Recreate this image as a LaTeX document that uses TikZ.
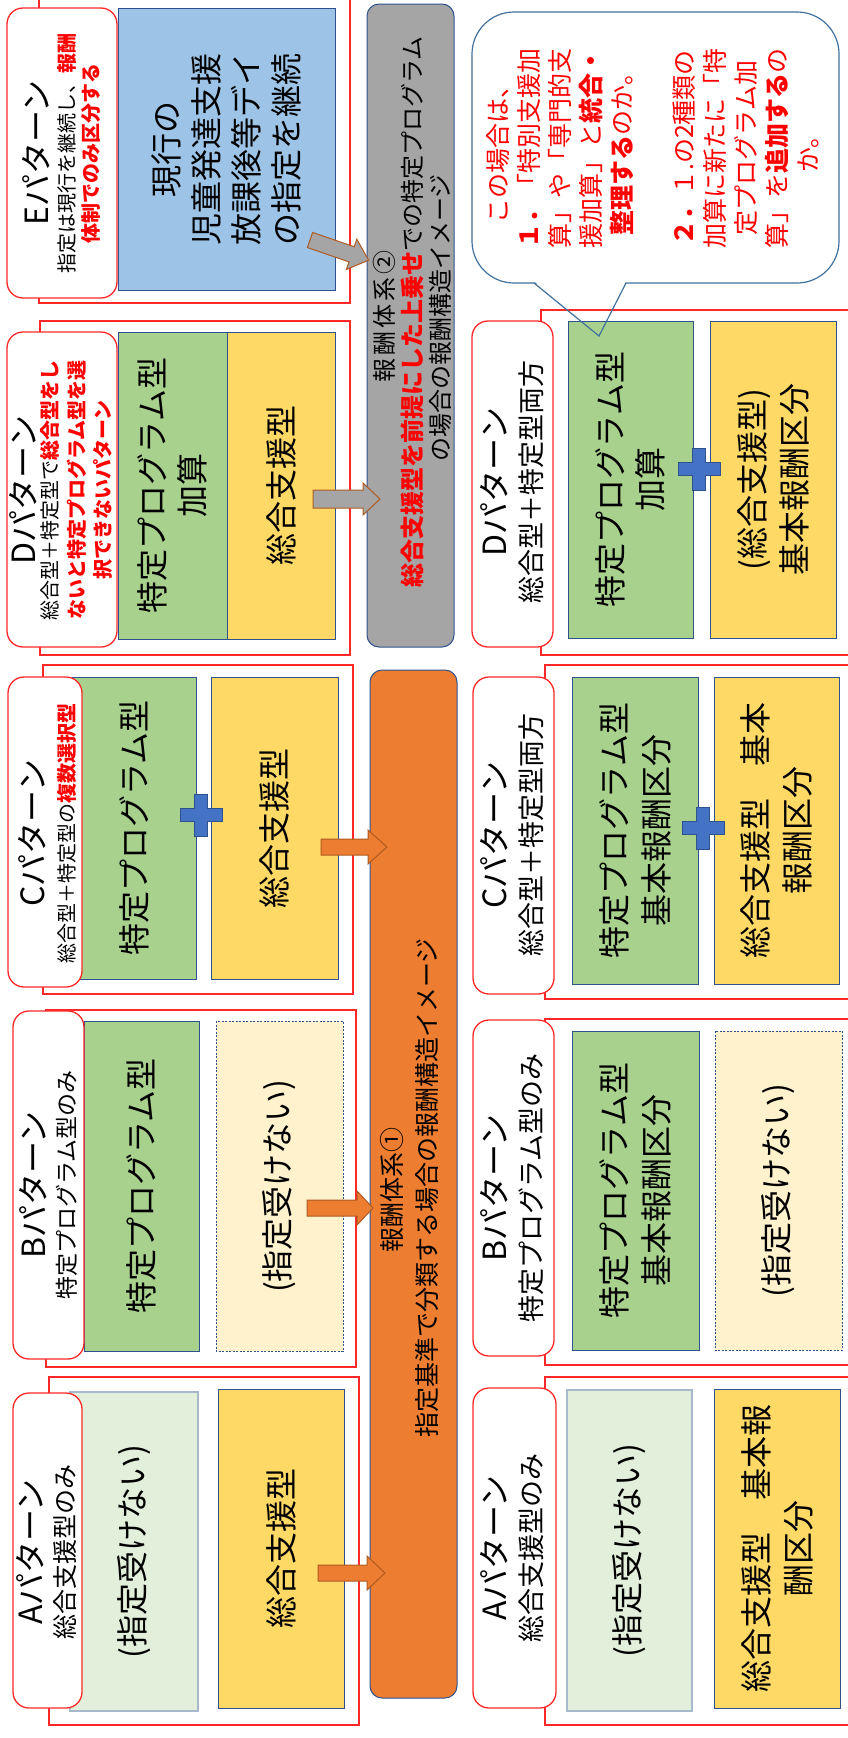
\documentclass[tikz,border=0pt]{standalone}
\usepackage{fontspec}
\setmainfont{Noto Sans CJK JP}
\definecolor{redline}{RGB}{255,40,40}
\definecolor{boxline}{RGB}{47,82,143}
\definecolor{greenbox}{HTML}{A9D18E}
\definecolor{yellowbox}{HTML}{FFD966}
\definecolor{lgreenbox}{HTML}{E2EFDA}
\definecolor{lgreenline}{HTML}{A9B9CC}
\definecolor{lyellowbox}{HTML}{FFF2CC}
\definecolor{bluebox}{HTML}{9DC3E6}
\definecolor{orangebar}{HTML}{ED7D31}
\definecolor{orangeedge}{HTML}{AE5A21}
\definecolor{graybar}{HTML}{A5A5A5}
\definecolor{plusblue}{HTML}{4472C4}
\definecolor{calloutline}{HTML}{41719C}
\definecolor{redtext}{RGB}{255,0,0}
\newcommand\myfs[2]{\fontsize{#1pt}{#2pt}\selectfont}
\newcommand\rb[1]{\textcolor{redtext}{\bfseries #1}}
\newcommand\plusat[2]{\draw[plussign, shift={(#1,#2)}] (-21,-6.5) -- (-6.5,-6.5) -- (-6.5,-21) -- (6.5,-21) -- (6.5,-6.5) -- (21,-6.5) -- (21,6.5) -- (6.5,6.5) -- (6.5,21) -- (-6.5,21) -- (-6.5,6.5) -- (-21,6.5) -- cycle;}
\begin{document}
\begin{tikzpicture}[x=1pt,y=-1pt,
  outer/.style={draw=redline, line width=1.3pt},
  hdr/.style={draw=redline, fill=white, line width=1.3pt, rounded corners=16pt, rotate=90, inner sep=0pt},
  box/.style={draw=boxline, line width=1pt, rotate=90, inner sep=0pt, align=center, font=\myfs{32}{41}},
  greenb/.style={box, fill=greenbox},
  yellowb/.style={box, fill=yellowbox},
  lgreenb/.style={box, fill=lgreenbox, draw=lgreenline, line width=1.5pt},
  dashb/.style={box, fill=lyellowbox, line width=0.8pt, dash pattern=on 2pt off 1.5pt},
  lbl/.style={rotate=90, inner sep=0pt, align=center},
  big/.style={lbl, font=\myfs{32}{32}},
  bar/.style={draw=boxline, line width=1pt, rounded corners=12pt, rotate=90, inner sep=0pt},
  arrowO/.style={fill=orangebar, draw=orangeedge, line width=1pt},
  arrowG/.style={fill=graybar, draw=orangeedge, line width=1pt},
  plussign/.style={fill=plusblue, draw=boxline, line width=0.8pt}]
\path[use as bounding box] (0,0) rectangle (848,1738);
\clip (0,0) rectangle (848,1738);
\fill[white] (0,0) rectangle (848,1738);

% callout body (under the boxes)
\draw[draw=calloutline, fill=white, line width=1.2pt, rounded corners=42pt] (472,12) rectangle (839,283);
\fill[white] (534,281) -- (599,336) -- (626,281) -- cycle;

% ---------- outer red group frames ----------
\draw[outer] (39,-20) rectangle (350,303);
\draw[outer] (40,321) rectangle (350,655);
\draw[outer] (43,665) rectangle (353,994);
\draw[outer] (46,1010) rectangle (356,1367);
\draw[outer] (49,1377) rectangle (359,1725);
\draw[outer] (541,310) rectangle (870,655);
\draw[outer] (545,665) rectangle (870,999);
\draw[outer] (545,1019) rectangle (870,1365);
\draw[outer] (545,1377) rectangle (870,1725);

% ---------- left column ----------
% E
\node[box, fill=bluebox, minimum width=282pt, minimum height=217pt, font=\myfs{32}{40}] (eBox) at (226.5,149) {現行の\\児童発達支援\\放課後等デイ\\の指定を継続};
% D
\node[greenb, minimum width=307pt, minimum height=109pt, font=\myfs{32}{40}] (dG) at (172.5,485.5) {特定プログラム型\\加算};
\node[yellowb, minimum width=307pt, minimum height=108pt] (dY) at (281,485.5) {総合支援型};
% C
\node[greenb, minimum width=302pt, minimum height=124pt] (cG) at (134,828) {特定プログラム型};
\node[yellowb, minimum width=302pt, minimum height=127pt] (cY) at (274.5,828) {総合支援型};
% B
\node[greenb, minimum width=330pt, minimum height=115pt] (bG) at (141.5,1186) {特定プログラム型};
\node[dashb, minimum width=330pt, minimum height=127pt] (bD) at (279.5,1186) {(指定受けない)};
% A
\node[lgreenb, minimum width=319pt, minimum height=128pt] (aL) at (134,1551.5) {(指定受けない)};
\node[yellowb, minimum width=319pt, minimum height=126pt] (aY) at (281,1548.5) {総合支援型};

% headers left
\node[hdr, minimum width=290pt, minimum height=110pt] (hE) at (62,153) {};
\node[big] (hEt) at (36,153) {Eパターン};
\node[lbl, font=\myfs{20}{20}] (hEs1) at (67,153) {指定は現行を継続し、\rb{報酬}};
\node[lbl, font=\myfs{20}{20}] (hEs2) at (91,153) {\rb{体制でのみ区分する}};

\node[hdr, minimum width=315pt, minimum height=110pt] (hD) at (62,489.5) {};
\node[big] (hDt) at (23,490) {Dパターン};
\node[lbl, font=\myfs{20}{20}] (hDs1) at (50,490) {総合型＋特定型で\rb{総合型をし}};
\node[lbl, font=\myfs{20}{20}] (hDs2) at (77,490) {\rb{ないと特定プログラム型を選}};
\node[lbl, font=\myfs{20}{20}] (hDs3) at (103,490) {\rb{択できないパターン}};

\node[hdr, minimum width=310pt, minimum height=74pt] (hC) at (45,832) {};
\node[big] (hCt) at (32,833) {Cパターン};
\node[lbl, font=\myfs{20}{20}] (hCs) at (67,833) {総合型＋特定型の\rb{複数選択型}};

\node[hdr, minimum width=348pt, minimum height=71pt] (hB) at (48.5,1185) {};
\node[big] (hBt) at (33,1185) {Bパターン};
\node[lbl, font=\myfs{23}{23}] (hBs) at (67,1185) {特定プログラム型のみ};

\node[hdr, minimum width=315pt, minimum height=69pt] (hA) at (47.5,1550.5) {};
\node[big] (hAt) at (30,1552) {Aパターン};
\node[lbl, font=\myfs{25}{25}] (hAs) at (65,1552) {総合支援型のみ};

% bars
\node[bar, fill=graybar, minimum width=643pt, minimum height=87pt] (sys2) at (410.5,325.5) {};
\node[lbl, font=\myfs{24}{24}] (g1) at (384,316) {報\kern3pt 酬\kern3pt 体\kern3pt 系\kern3pt ②};
\node[lbl, font=\myfs{24}{24}] (g2) at (412,312) {\rb{総合支援型を前提にした上乗せ}での特定プログラム};
\node[lbl, font=\myfs{24}{24}] (g3) at (440,318) {の場合の報酬構造イメージ};

\node[bar, fill=orangebar, minimum width=1028pt, minimum height=87pt] (sys1) at (413.5,1184) {};
\node[lbl, font=\myfs{25}{25}] (o1) at (392,1190) {報酬体系①};
\node[lbl, font=\myfs{25}{25}] (o2) at (427,1188) {指定基準で分類する場合の報酬構造イメージ};

% plus left C
\plusat{201}{815}

% arrows into bars
\draw[arrowG, shift={(310,240)}, rotate=-19] (0,-8) -- (44,-8) -- (44,-16) -- (62,0) -- (44,16) -- (44,8) -- (0,8) -- cycle;
\draw[arrowG] (313,490) -- (363,490) -- (363,483) -- (380,499) -- (363,515) -- (363,508) -- (313,508) -- cycle;
\draw[arrowO] (321,839) -- (368,839) -- (368,830) -- (387,847) -- (368,864) -- (368,855) -- (321,855) -- cycle;
\draw[arrowO] (307,1200) -- (357,1200) -- (357,1191) -- (373,1208) -- (357,1225) -- (357,1216) -- (307,1216) -- cycle;
\draw[arrowO] (318,1565) -- (367,1565) -- (367,1556) -- (385,1573) -- (367,1590) -- (367,1581) -- (318,1581) -- cycle;

% ---------- right column ----------
\node[greenb, minimum width=317pt, minimum height=125pt, font=\myfs{32}{40}] (dG2) at (630.5,479.5) {特定プログラム型\\加算};
\node[yellowb, minimum width=317pt, minimum height=126pt, font=\myfs{32}{42}] (dY2) at (773,479.5) {(総合支援型)\\基本報酬区分};
\node[greenb, minimum width=307pt, minimum height=126pt, font=\myfs{32}{42}] (cG2) at (635,830.5) {特定プログラム型\\基本報酬区分};
\node[yellowb, minimum width=307pt, minimum height=125pt, font=\myfs{32}{42}] (cY2) at (776.5,830.5) {総合支援型　基本\\報酬区分};
\node[greenb, minimum width=319pt, minimum height=127pt, font=\myfs{32}{42}] (bG2) at (635.5,1190.5) {特定プログラム型\\基本報酬区分};
\node[dashb, minimum width=319pt, minimum height=127pt] (bD2) at (778.5,1190.5) {(指定受けない)};
\node[lgreenb, minimum width=321pt, minimum height=125pt] (aL2) at (629.5,1550.5) {(指定受けない)};
\node[yellowb, minimum width=319pt, minimum height=126pt, font=\myfs{32}{42}] (aY2) at (777,1548.5) {総合支援型　基本報\\酬区分};

\plusat{699}{469}
\plusat{703}{828}

% headers right
\node[hdr, minimum width=326pt, minimum height=81pt] (hD2) at (512.5,484) {};
\node[big] (hD2t) at (494,482) {Dパターン};
\node[lbl, font=\myfs{27}{27}] (hD2s) at (531,482) {総合型＋特定型両方};
\node[hdr, minimum width=317pt, minimum height=81pt] (hC2) at (513.5,835.5) {};
\node[big] (hC2t) at (494,835) {Cパターン};
\node[lbl, font=\myfs{27}{27}] (hC2s) at (531,835) {総合型＋特定型両方};
\node[hdr, minimum width=336pt, minimum height=81pt] (hB2) at (513.5,1188) {};
\node[big] (hB2t) at (494,1188) {Bパターン};
\node[lbl, font=\myfs{27}{27}] (hB2s) at (531,1188) {特定プログラム型のみ};
\node[hdr, minimum width=320pt, minimum height=83pt] (hA2) at (514.5,1548) {};
\node[big] (hA2t) at (494,1548) {Aパターン};
\node[lbl, font=\myfs{27}{27}] (hA2s) at (531,1548) {総合支援型のみ};

% callout tail outline and text
\draw[calloutline, line width=1.2pt] (534,283) -- (599,336) -- (626,283);
\node[lbl, text=redtext, font=\myfs{25}{31}] (note) at (653,148) {この場合は、\\\textbf{１．}「特別支援加\\算」や「専門的支\\援加算」と\textbf{統合・}\\\textbf{整理する}のか。\\[31pt]\textbf{２．}１.の2種類の\\加算に新たに「特\\定プログラム加\\算」を\textbf{追加する}の\\か。};
\end{tikzpicture}
\end{document}
